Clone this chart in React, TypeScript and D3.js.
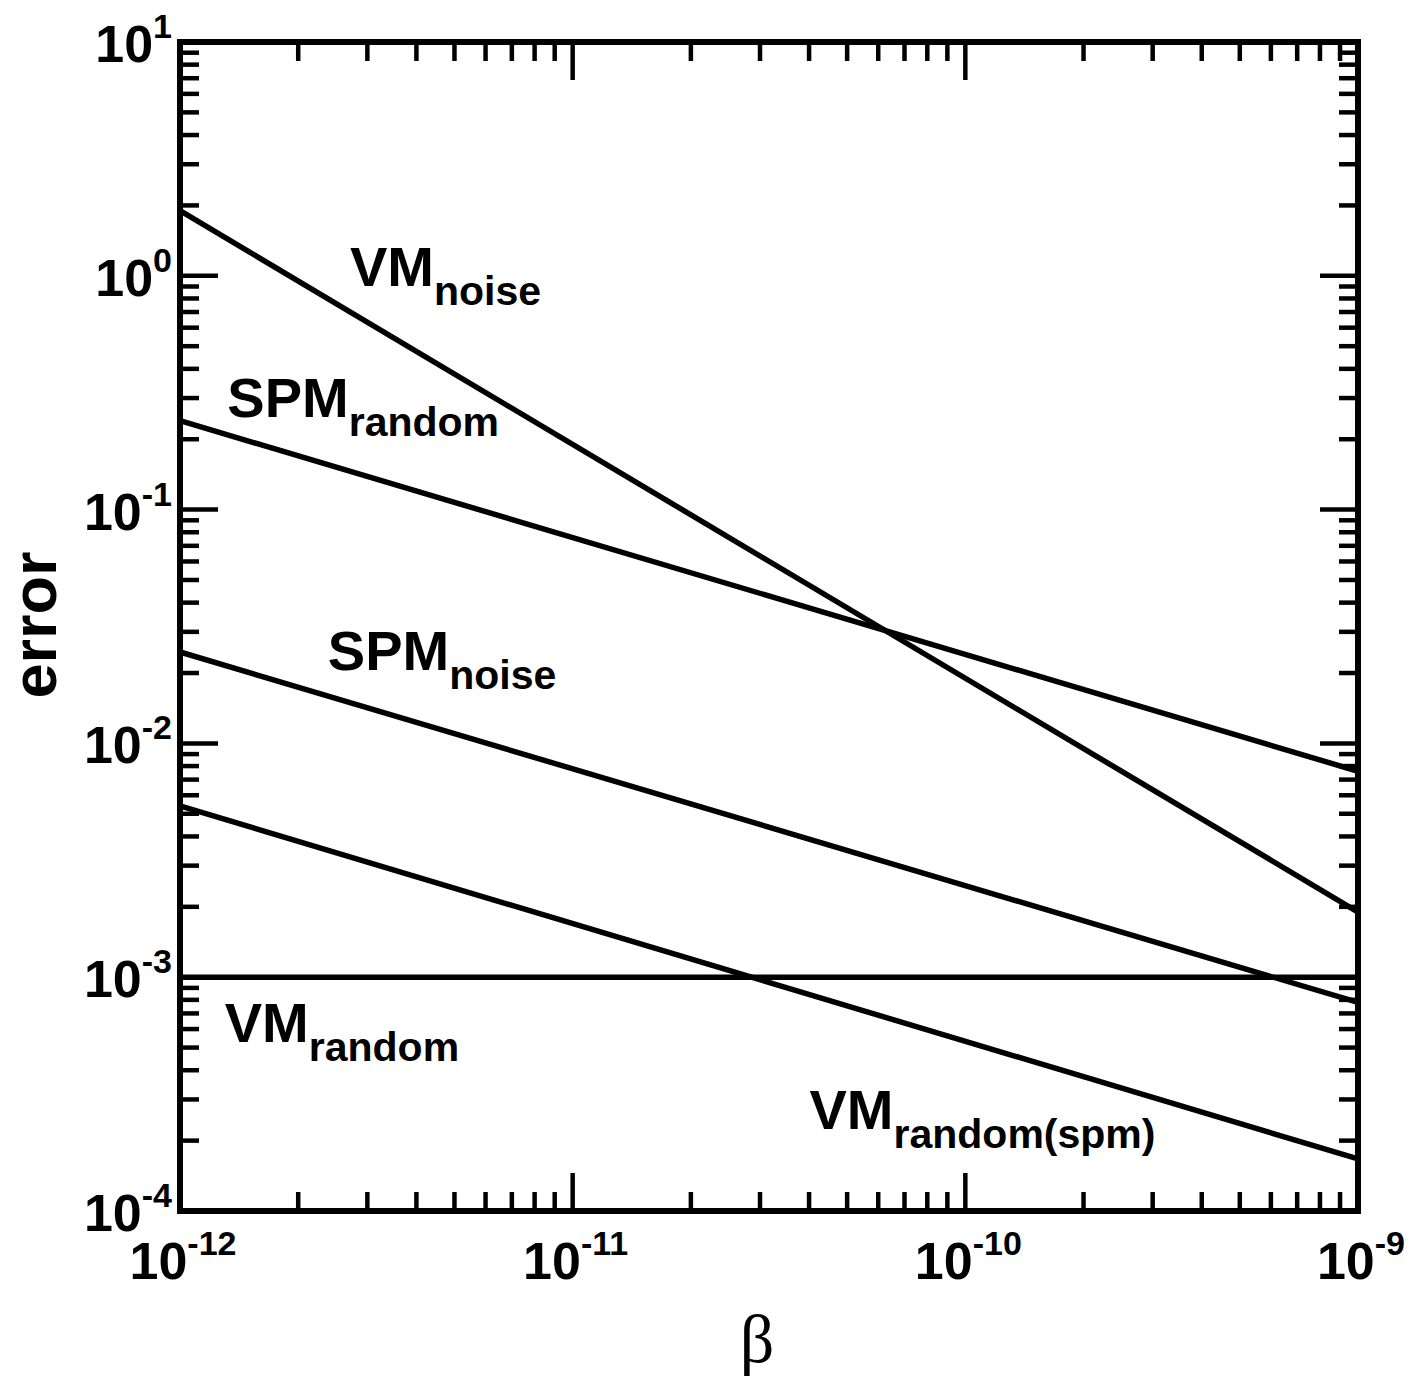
import React from "react";
import * as d3 from "d3";

// beta range and error range (log axes)
const xDomain = [1e-12, 1e-9];
const yDomain = [1e-4, 10];

// line end values, at beta = 1e-12 and 1e-9
const betaEnds = [1e-12, 1e-9];
const vmNoise = [1.9, 0.0019];
const spmRandom = [0.24, 0.0076];
const spmNoise = [0.0246, 0.00078];
const vmRandomSpm = [0.0054, 0.000167];
const vmRandom = [0.001, 0.001];

const xTickExps = [-12, -11, -10, -9];
const yTickExps = [1, 0, -1, -2, -3, -4];

const series = [vmNoise, spmRandom, spmNoise, vmRandomSpm, vmRandom];

// labels: main text, subscript, anchored at (beta, error) of the baseline start
const labels = [
  { main: "VM", sub: "noise", x: 2.71e-12, y: 0.9 },
  { main: "SPM", sub: "random", x: 1.32e-12, y: 0.25 },
  { main: "SPM", sub: "noise", x: 2.38e-12, y: 0.0207 },
  { main: "VM", sub: "random", x: 1.3e-12, y: 0.000527 },
  { main: "VM", sub: "random(spm)", x: 4.01e-11, y: 0.000224 },
];

const W = 1422;
const H = 1376;
const left = 180;
const right = 1358;
const top = 42;
const bottom = 1211;

function minorTicks(domain: number[]) {
  const out: number[] = [];
  const lo = Math.round(Math.log10(domain[0]));
  const hi = Math.round(Math.log10(domain[1]));
  for (let e = lo; e < hi; e++) {
    for (let k = 2; k <= 9; k++) out.push(k * Math.pow(10, e));
  }
  return out;
}

export default function App() {
  const x = d3.scaleLog().domain(xDomain).range([left, right]);
  const y = d3.scaleLog().domain(yDomain).range([bottom, top]);
  const line = d3
    .line<number>()
    .x((_, i) => x(betaEnds[i]))
    .y((d) => y(d));

  const xMinor = minorTicks(xDomain);
  const yMinor = minorTicks(yDomain);
  const minorLen = 19;
  const majorLen = 38;
  const tickW = 4.5;
  const font = "'Liberation Sans', Arial, Helvetica, sans-serif";

  return (
    <svg
      width={W}
      height={H}
      style={{ position: "absolute", left: 0, top: 0 }}
      fontFamily={font}
      fontWeight="bold"
    >
      <rect width={W} height={H} fill="#fff" />

      {/* ticks */}
      <g stroke="#000" strokeWidth={tickW}>
        {xMinor.map((v) => (
          <g key={"xm" + v}>
            <line x1={x(v)} x2={x(v)} y1={top} y2={top + minorLen} />
            <line x1={x(v)} x2={x(v)} y1={bottom} y2={bottom - minorLen} />
          </g>
        ))}
        {xTickExps.map((e) => (
          <g key={"xM" + e}>
            <line x1={x(10 ** e)} x2={x(10 ** e)} y1={top} y2={top + majorLen} />
            <line x1={x(10 ** e)} x2={x(10 ** e)} y1={bottom} y2={bottom - majorLen} />
          </g>
        ))}
        {yMinor.map((v) => (
          <g key={"ym" + v}>
            <line x1={left} x2={left + minorLen} y1={y(v)} y2={y(v)} />
            <line x1={right} x2={right - minorLen} y1={y(v)} y2={y(v)} />
          </g>
        ))}
        {yTickExps.map((e) => (
          <g key={"yM" + e}>
            <line x1={left} x2={left + majorLen} y1={y(10 ** e)} y2={y(10 ** e)} />
            <line x1={right} x2={right - majorLen} y1={y(10 ** e)} y2={y(10 ** e)} />
          </g>
        ))}
      </g>

      {/* frame */}
      <rect
        x={left}
        y={top}
        width={right - left}
        height={bottom - top}
        fill="none"
        stroke="#000"
        strokeWidth={6}
      />

      {/* data lines */}
      <g fill="none" stroke="#000" strokeWidth={5.5}>
        {series.map((s, i) => (
          <path key={i} d={line(s) || ""} />
        ))}
      </g>

      {/* y tick labels */}
      {yTickExps.map((e) => (
        <text
          key={"yl" + e}
          x={left - 8}
          y={y(10 ** e) + 20}
          textAnchor="end"
          fontSize={52}
        >
          10
          <tspan fontSize={34} dy={-24}>
            {String(e)}
          </tspan>
        </text>
      ))}

      {/* x tick labels */}
      {xTickExps.map((e) => (
        <text
          key={"xl" + e}
          x={x(10 ** e) + 3}
          y={bottom + 68}
          textAnchor="middle"
          fontSize={52}
        >
          10
          <tspan fontSize={34} dy={-24}>
            {String(e)}
          </tspan>
        </text>
      ))}

      {/* series labels */}
      {labels.map((l, i) => (
        <text key={"sl" + i} x={x(l.x)} y={y(l.y)} fontSize={56}>
          {l.main}
          <tspan fontSize={41} dy={19}>
            {l.sub}
          </tspan>
        </text>
      ))}

      {/* axis titles */}
      <text
        transform={`translate(56, 625) rotate(-90)`}
        textAnchor="middle"
        fontSize={63}
      >
        error
      </text>
      <text
        x={757}
        y={1362}
        textAnchor="middle"
        fontSize={68}
        fontWeight="normal"
        fontFamily="'Liberation Serif', 'Times New Roman', serif"
      >
        β
      </text>
    </svg>
  );
}
